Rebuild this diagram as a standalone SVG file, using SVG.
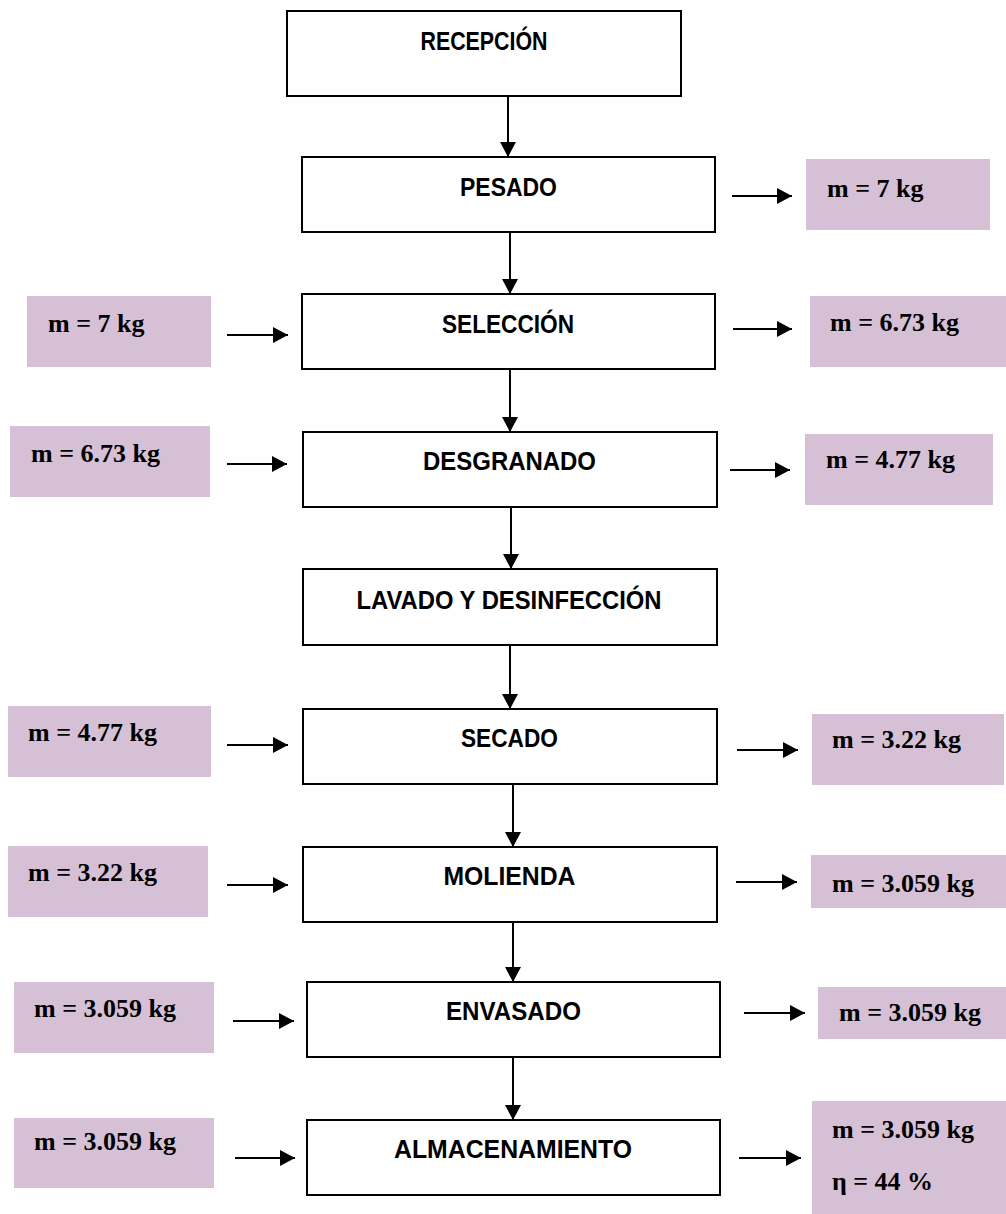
<svg xmlns="http://www.w3.org/2000/svg" width="1006" height="1214" viewBox="0 0 1006 1214">
  <style>
    .step { fill: #ffffff; stroke: #000000; stroke-width: 2; }
    .step-label { font-family: "Liberation Sans", Arial, sans-serif; font-weight: bold; font-size: 25.5px; fill: #000000; text-anchor: middle; }
    .mass { fill: #D5C0D6; stroke: none; }
    .mass-label { font-family: "Liberation Serif", "Times New Roman", serif; font-weight: bold; font-size: 26px; fill: #000000; }
    .flow { fill: none; stroke: #000000; stroke-width: 2; marker-end: url(#head); }
  </style>
  <defs>
    <marker id="head" viewBox="0 0 15 16" refX="15" refY="8" markerWidth="15" markerHeight="16" markerUnits="userSpaceOnUse" orient="auto">
      <path d="M0,0 L15,8 L0,16 Z" fill="#000000"/>
    </marker>
  </defs>

  <rect width="1006" height="1214" fill="#ffffff"/>

  <!-- process steps -->
  <g id="recepcion">
    <rect class="step" x="287" y="11" width="394" height="85"/>
    <text class="step-label" x="484" y="50" textLength="127" lengthAdjust="spacingAndGlyphs">RECEPCIÓN</text>
  </g>
  <g id="pesado">
    <rect class="step" x="302" y="157" width="413" height="75"/>
    <text class="step-label" x="508.5" y="196" textLength="97" lengthAdjust="spacingAndGlyphs">PESADO</text>
  </g>
  <g id="seleccion">
    <rect class="step" x="302" y="294" width="413" height="75"/>
    <text class="step-label" x="508" y="333" textLength="132" lengthAdjust="spacingAndGlyphs">SELECCIÓN</text>
  </g>
  <g id="desgranado">
    <rect class="step" x="303" y="432" width="414" height="75"/>
    <text class="step-label" x="509.5" y="470" textLength="173" lengthAdjust="spacingAndGlyphs">DESGRANADO</text>
  </g>
  <g id="lavado">
    <rect class="step" x="303" y="569" width="414" height="76"/>
    <text class="step-label" x="509" y="609" textLength="305" lengthAdjust="spacingAndGlyphs">LAVADO Y DESINFECCIÓN</text>
  </g>
  <g id="secado">
    <rect class="step" x="303" y="709" width="414" height="75"/>
    <text class="step-label" x="509.5" y="747" textLength="97" lengthAdjust="spacingAndGlyphs">SECADO</text>
  </g>
  <g id="molienda">
    <rect class="step" x="303" y="847" width="414" height="75"/>
    <text class="step-label" x="509.5" y="885" textLength="132" lengthAdjust="spacingAndGlyphs">MOLIENDA</text>
  </g>
  <g id="envasado">
    <rect class="step" x="307" y="982" width="413" height="75"/>
    <text class="step-label" x="513.5" y="1020" textLength="135" lengthAdjust="spacingAndGlyphs">ENVASADO</text>
  </g>
  <g id="almacenamiento">
    <rect class="step" x="307" y="1120" width="413" height="75"/>
    <text class="step-label" x="513" y="1158" textLength="238" lengthAdjust="spacingAndGlyphs">ALMACENAMIENTO</text>
  </g>

  <!-- mass entering each step (left) -->
  <g id="in-seleccion">
    <rect class="mass" x="27" y="296" width="184" height="71"/>
    <text class="mass-label" x="48" y="332">m = 7 kg</text>
  </g>
  <g id="in-desgranado">
    <rect class="mass" x="10" y="426" width="200" height="71"/>
    <text class="mass-label" x="31" y="462">m = 6.73 kg</text>
  </g>
  <g id="in-secado">
    <rect class="mass" x="8" y="706" width="203" height="71"/>
    <text class="mass-label" x="28" y="741">m = 4.77 kg</text>
  </g>
  <g id="in-molienda">
    <rect class="mass" x="8" y="846" width="200" height="71"/>
    <text class="mass-label" x="28" y="881">m = 3.22 kg</text>
  </g>
  <g id="in-envasado">
    <rect class="mass" x="14" y="982" width="200" height="71"/>
    <text class="mass-label" x="34" y="1017">m = 3.059 kg</text>
  </g>
  <g id="in-almacenamiento">
    <rect class="mass" x="14" y="1118" width="200" height="70"/>
    <text class="mass-label" x="34" y="1150">m = 3.059 kg</text>
  </g>

  <!-- mass leaving each step (right) -->
  <g id="out-pesado">
    <rect class="mass" x="806" y="159" width="184" height="71"/>
    <text class="mass-label" x="827" y="197">m = 7 kg</text>
  </g>
  <g id="out-seleccion">
    <rect class="mass" x="810" y="296" width="196" height="71"/>
    <text class="mass-label" x="830" y="331">m = 6.73 kg</text>
  </g>
  <g id="out-desgranado">
    <rect class="mass" x="805" y="434" width="188" height="71"/>
    <text class="mass-label" x="826" y="468">m = 4.77 kg</text>
  </g>
  <g id="out-secado">
    <rect class="mass" x="812" y="714" width="192" height="71"/>
    <text class="mass-label" x="832" y="748">m = 3.22 kg</text>
  </g>
  <g id="out-molienda">
    <rect class="mass" x="811" y="855" width="195" height="53"/>
    <text class="mass-label" x="832" y="892">m = 3.059 kg</text>
  </g>
  <g id="out-envasado">
    <rect class="mass" x="818" y="987" width="188" height="52"/>
    <text class="mass-label" x="839" y="1021">m = 3.059 kg</text>
  </g>
  <g id="out-almacenamiento">
    <rect class="mass" x="812" y="1101" width="194" height="113"/>
    <text class="mass-label" x="832" y="1138">m = 3.059 kg</text>
    <text class="mass-label" x="832" y="1190">η = 44 %</text>
  </g>

  <!-- connectors -->
  <g id="connectors">
    <!-- main line, top to bottom -->
    <line class="flow" x1="508" y1="96" x2="508" y2="157"/>
    <line class="flow" x1="510" y1="232" x2="510" y2="294"/>
    <line class="flow" x1="510" y1="369" x2="510" y2="432"/>
    <line class="flow" x1="511" y1="507" x2="511" y2="569"/>
    <line class="flow" x1="510" y1="645" x2="510" y2="709"/>
    <line class="flow" x1="513" y1="784" x2="513" y2="847"/>
    <line class="flow" x1="513" y1="922" x2="513" y2="982"/>
    <line class="flow" x1="513" y1="1057" x2="513" y2="1120"/>
    <!-- inputs -->
    <line class="flow" x1="227" y1="335" x2="288" y2="335"/>
    <line class="flow" x1="227" y1="464" x2="287" y2="464"/>
    <line class="flow" x1="227" y1="745" x2="288" y2="745"/>
    <line class="flow" x1="227" y1="885" x2="288" y2="885"/>
    <line class="flow" x1="233" y1="1021" x2="294" y2="1021"/>
    <line class="flow" x1="235" y1="1158" x2="295" y2="1158"/>
    <!-- outputs -->
    <line class="flow" x1="732" y1="196" x2="792" y2="196"/>
    <line class="flow" x1="733" y1="329" x2="792" y2="329"/>
    <line class="flow" x1="730" y1="470" x2="790" y2="470"/>
    <line class="flow" x1="737" y1="750" x2="798" y2="750"/>
    <line class="flow" x1="736" y1="882" x2="797" y2="882"/>
    <line class="flow" x1="744" y1="1013" x2="805" y2="1013"/>
    <line class="flow" x1="739" y1="1158" x2="801" y2="1158"/>
  </g>
</svg>
